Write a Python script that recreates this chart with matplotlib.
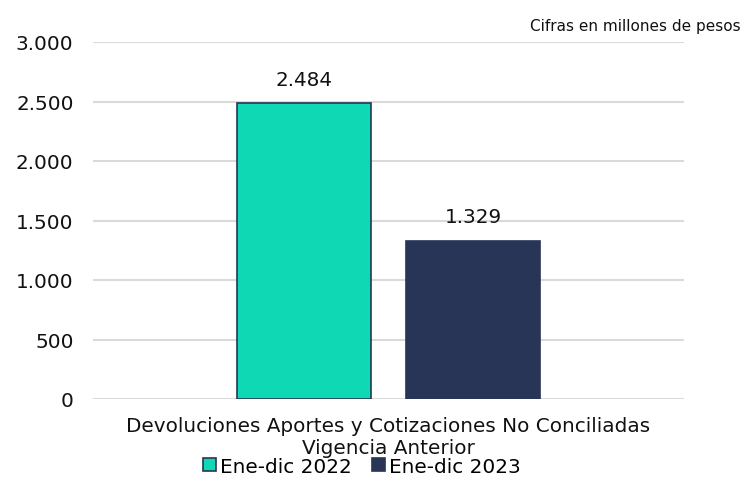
import matplotlib.pyplot as plt
import numpy as np

categoria = "Devoluciones Aportes y Cotizaciones No Conciliadas\nVigencia Anterior"
series = ["Ene-dic 2022", "Ene-dic 2023"]
valores = [2484, 1329]
colores = ["#0FD9B4", "#283556"]
yticks = [0, 500, 1000, 1500, 2000, 2500, 3000]

def fmt(v):
    return "{:,.0f}".format(v).replace(",", ".")

font = 14.4
plt.rcParams.update({'font.family': 'DejaVu Sans', 'font.size': font})
fig = plt.figure(figsize=(7.44, 4.85), dpi=100)
ax = fig.add_axes([93/744, 1-400/485, 591/744, 357/485])

w = 0.227
offs = [-0.143, 0.143]
for i, (s, v, c) in enumerate(zip(series, valores, colores)):
    ec = colores[1] if i == 0 else c
    ax.bar(offs[i], v, width=w, color=c, edgecolor=ec, linewidth=1.2, label=s, zorder=3)
    ax.text(offs[i], v + 125, fmt(v), ha='center', va='bottom', fontsize=font, color='#111111')

ax.set_xlim(-0.5, 0.5)
ax.set_ylim(0, 3000)
ax.set_yticks(yticks)
ax.set_yticklabels([fmt(t) for t in yticks], color='#111111')
ax.set_xticks([0])
ax.set_xticklabels([categoria], color='#111111', linespacing=1.2)
ax.tick_params(axis='y', length=0, pad=14)
ax.tick_params(axis='x', length=0, pad=12)
ax.grid(axis='y', color='#DADADA', linewidth=1.5, zorder=0)
for sp in ax.spines.values():
    sp.set_visible(False)

fig.text(0.995, 0.93, "Cifras en millones de pesos", ha='right', va='bottom', fontsize=11, color='#111111')

leg = ax.legend(loc='center', bbox_to_anchor=(0.486, 0.037), bbox_transform=fig.transFigure,
                ncol=2, frameon=False, handlelength=0.65, handleheight=0.65,
                handletextpad=0.2, columnspacing=1.0, fontsize=font)

plt.savefig("out.png", dpi=100)
